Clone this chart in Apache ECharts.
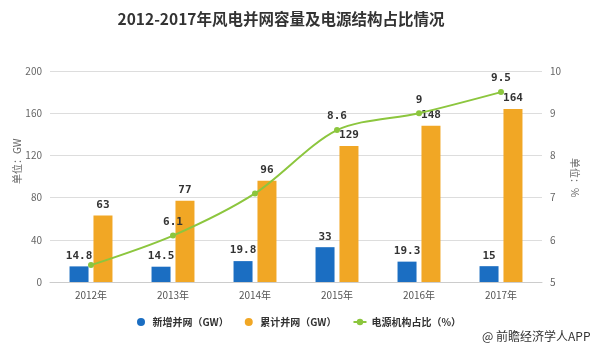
<!DOCTYPE html>
<html><head><meta charset="utf-8">
<script src="https://cdn.jsdelivr.net/npm/echarts@6/dist/echarts.min.js"></script>
<style>html,body{margin:0;padding:0;background:#fff}#c{width:600px;height:358px}</style>
</head><body><div id="c"></div>
<script>
const categories = ['2012年','2013年','2014年','2015年','2016年','2017年'];
const newGrid = [14.8, 14.5, 19.8, 33, 19.3, 15];
const totalGrid = [63, 77, 96, 129, 148, 164];
const share = [5.4, 6.1, 7.1, 8.6, 9, 9.5];
const shareLabelShown = [false, true, false, true, true, true];
const leftTicks = [0, 40, 80, 120, 160, 200];
const rightTicks = [5, 6, 7, 8, 9, 10];

const chart = echarts.init(document.getElementById('c'));
const font = '"Noto Sans CJK SC", "Microsoft YaHei", sans-serif';
chart.setOption({
  animation: false,
  textStyle: { fontFamily: font },
  title: {
    text: '2012-2017年风电并网容量及电源结构占比情况',
    left: 276, top: 6, textAlign: 'center',
    textStyle: { fontSize: 15.5, fontWeight: 'bold', color: '#333', fontFamily: font }
  },
  grid: { left: 50, right: 58, top: 71, bottom: 76 },
  legend: {
    top: 312, left: 132, itemGap: 16, itemWidth: 13, itemHeight: 8,
    textStyle: { fontSize: 10, color: '#333', fontWeight: 'bold' },
    data: [
      { name: '新增并网（GW）', icon: 'circle' },
      { name: '累计并网（GW）', icon: 'circle' },
      { name: '电源机构占比（%）' }
    ]
  },
  graphic: [
    { type: 'text', left: 482, top: 330, style: { text: '@ 前瞻经济学人APP', fontSize: 12, fill: '#333', fontFamily: font } },
    { type: 'text', x: 12, y: 184, rotation: Math.PI / 2, style: { text: '单位：GW', fontSize: 10, fill: '#666', fontFamily: font } },
    { type: 'text', x: 580, y: 158, rotation: -Math.PI / 2, style: { text: '单位：%', fontSize: 10, fill: '#666', fontFamily: font } }
  ],
  xAxis: {
    type: 'category', data: categories,
    axisLine: { lineStyle: { color: '#ccc' } },
    axisTick: { show: false },
    axisLabel: { fontSize: 10, color: '#555', margin: 8 }
  },
  yAxis: [
    {
      type: 'value', min: leftTicks[0], max: leftTicks[leftTicks.length - 1], interval: 40,
      axisLine: { show: false }, axisTick: { show: false },
      axisLabel: { fontSize: 10, color: '#666', margin: 8 },
      splitLine: { lineStyle: { color: '#ddd' } }
    },
    {
      type: 'value', min: rightTicks[0], max: rightTicks[rightTicks.length - 1], interval: 1,
      axisLine: { show: false }, axisTick: { show: false },
      axisLabel: { fontSize: 10, color: '#666', margin: 8 },
      splitLine: { show: false }
    }
  ],
  series: [
    {
      name: '新增并网（GW）', type: 'bar', data: newGrid, barWidth: 19, barGap: '26%',
      itemStyle: { color: '#1b6ec2' },
      label: { show: true, position: 'top', fontSize: 11, fontWeight: 'bold', color: '#333', fontFamily: 'DejaVu Sans Mono' }
    },
    {
      name: '累计并网（GW）', type: 'bar', data: totalGrid, barWidth: 19,
      itemStyle: { color: '#f1a725' },
      label: { show: true, position: 'top', fontSize: 11, fontWeight: 'bold', color: '#333', fontFamily: 'DejaVu Sans Mono' }
    },
    {
      name: '电源机构占比（%）', type: 'line', yAxisIndex: 1, smooth: 0.3,
      data: share.map((v, i) => ({ value: v, label: { show: shareLabelShown[i] } })),
      symbol: 'circle', symbolSize: 6,
      lineStyle: { color: '#8cc63e', width: 2 },
      itemStyle: { color: '#8cc63e' },
      label: { position: 'top', fontSize: 11, fontWeight: 'bold', color: '#333', fontFamily: 'DejaVu Sans Mono' }
    }
  ]
});
</script></body></html>
